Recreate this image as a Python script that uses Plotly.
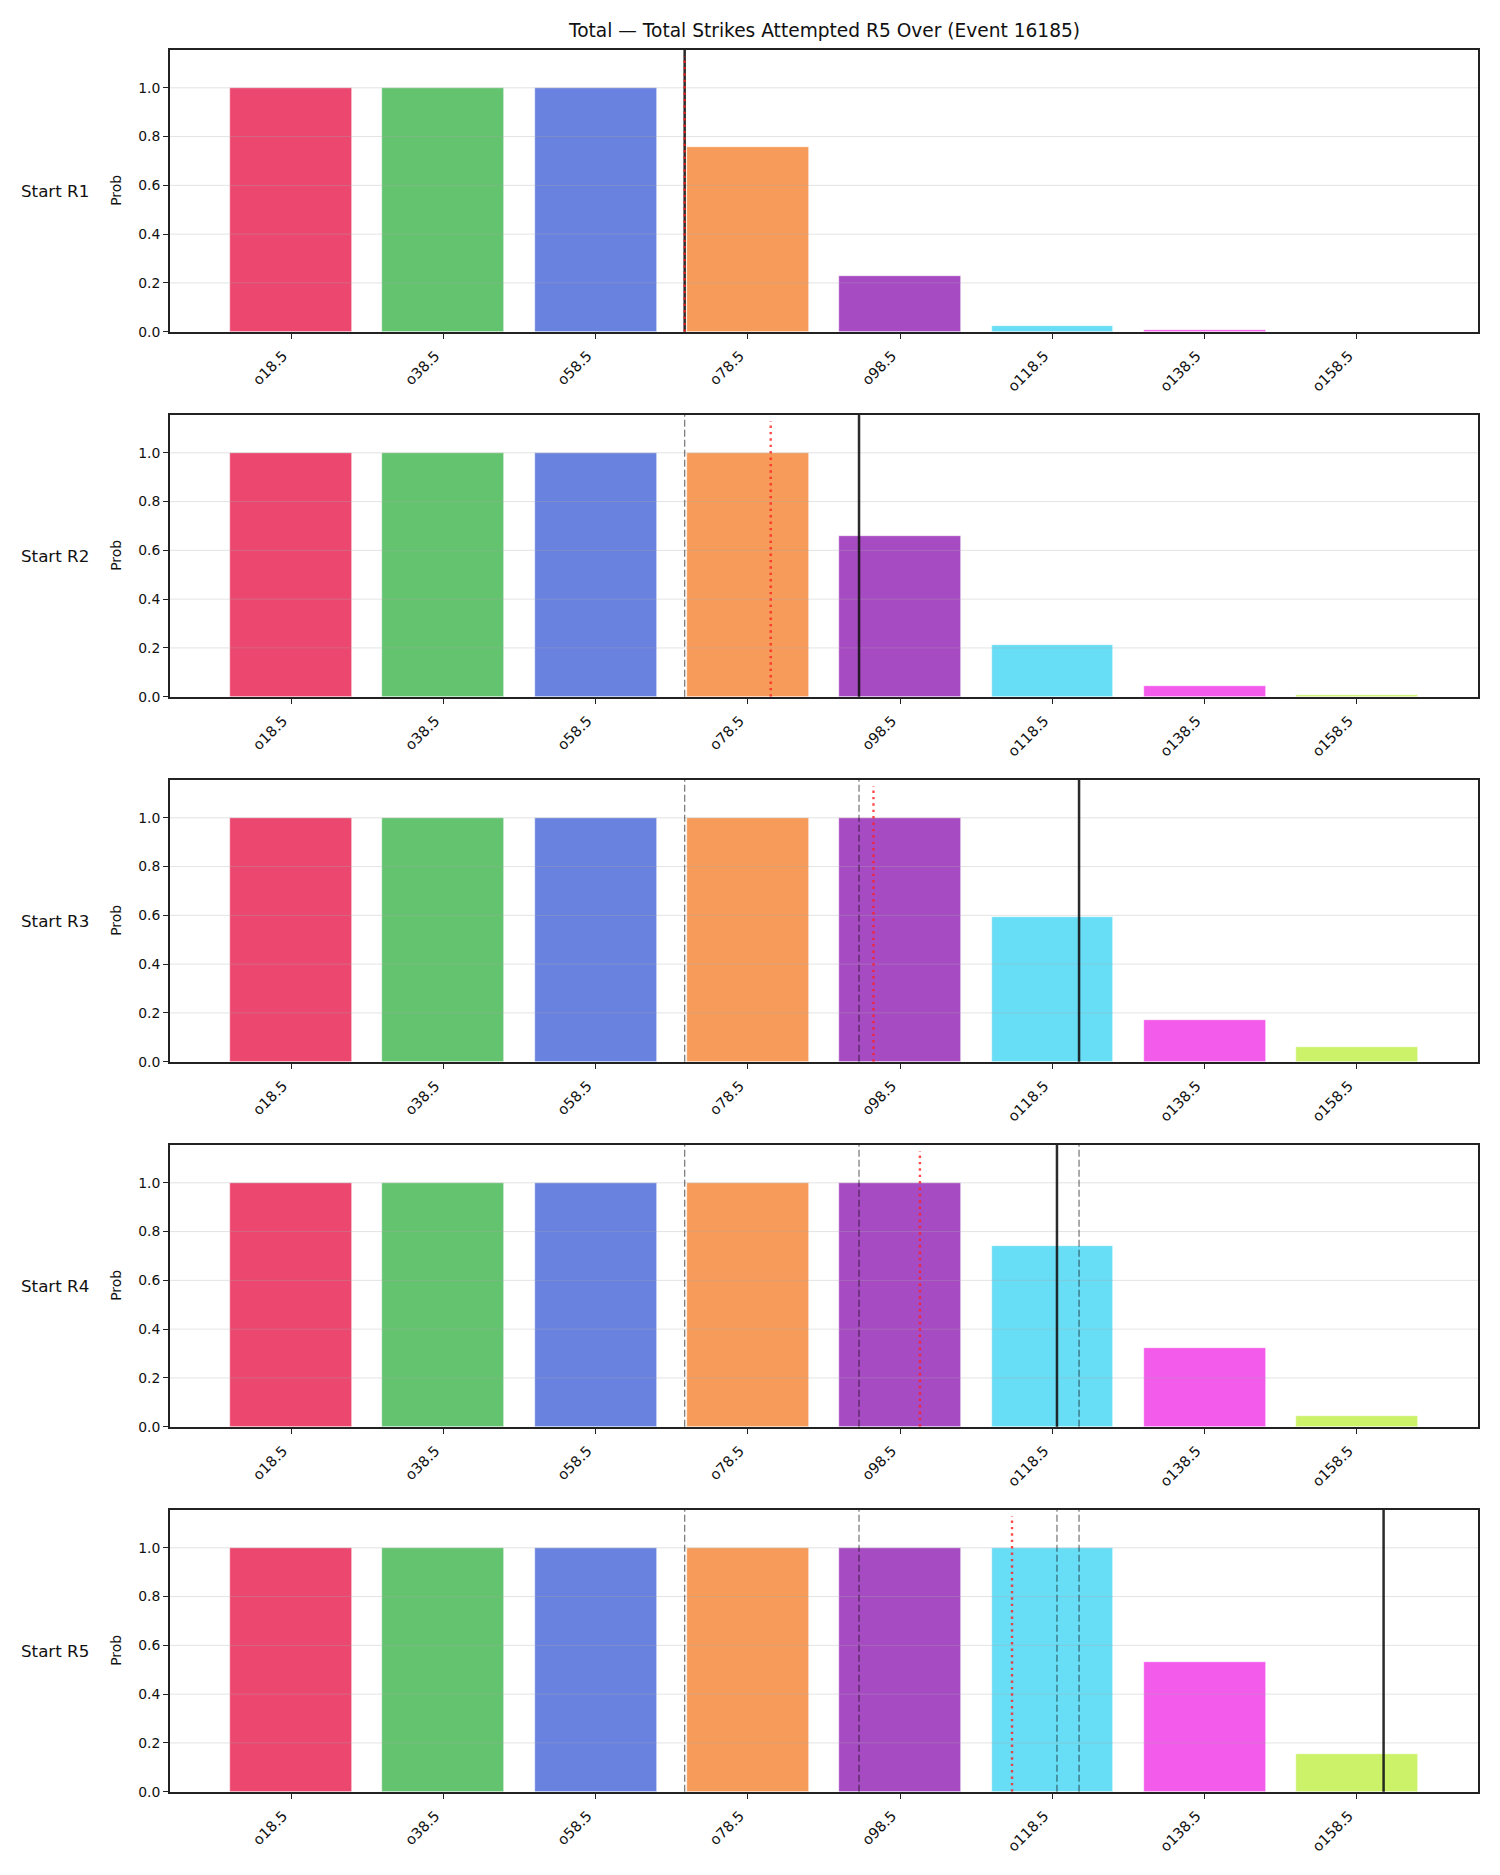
import plotly.graph_objects as go

# ---------------- data ----------------
categories = ["o18.5", "o38.5", "o58.5", "o78.5", "o98.5", "o118.5", "o138.5", "o158.5"]
line_values = [18.5, 38.5, 58.5, 78.5, 98.5, 118.5, 138.5, 158.5]
round_labels = ["Start R1", "Start R2", "Start R3", "Start R4", "Start R5"]

prob_r1 = [1.0, 1.0, 1.0, 0.757, 0.228, 0.023, 0.006, 0.0]
prob_r2 = [1.0, 1.0, 1.0, 1.0, 0.658, 0.210, 0.042, 0.005]
prob_r3 = [1.0, 1.0, 1.0, 1.0, 1.0, 0.593, 0.171, 0.060]
prob_r4 = [1.0, 1.0, 1.0, 1.0, 1.0, 0.741, 0.323, 0.044]
prob_r5 = [1.0, 1.0, 1.0, 1.0, 1.0, 1.0, 0.531, 0.155]
probs = [prob_r1, prob_r2, prob_r3, prob_r4, prob_r5]

# projected total (solid black) and pace line (red dotted) per round
proj_solid = [70.2, 93.1, 122.0, 119.1, 162.0]
proj_dotted = [70.2, 81.5, 95.0, 101.1, 113.2]

bar_colors = ["#e6194b", "#3cb44b", "#4363d8", "#f58231",
              "#911eb4", "#42d4f4", "#f032e6", "#bfef45"]
title_text = "Total \u2014 Total Strikes Attempted R5 Over (Event 16185)"

# ---------------- layout geometry ----------------
W, H = 1500, 1875
left_px, right_px = 170, 1478
top0, pitch, panel_h = 50, 365, 281.7
FONT = "DejaVu Sans"


def rgba(hexcol, a):
    h = hexcol.lstrip("#")
    r, g, b = int(h[0:2], 16), int(h[2:4], 16), int(h[4:6], 16)
    return f"rgba({r},{g},{b},{a})"


fig = go.Figure()
layout = dict(
    width=W, height=H,
    margin=dict(l=0, r=0, t=0, b=0, pad=0, autoexpand=False),
    paper_bgcolor="white", plot_bgcolor="white",
    showlegend=False,
    font=dict(family=FONT, color="#111"),
    bargap=0,
)
shapes = []
annotations = []

for k in range(5):
    idx = k + 1
    xa = f"x{idx}" if idx > 1 else "x"
    ya = f"y{idx}" if idx > 1 else "y"
    top = top0 + pitch * k
    bot = top + panel_h
    dom_y = [1 - bot / H, 1 - top / H]

    fig.add_trace(go.Bar(
        x=line_values, y=probs[k], width=16,
        marker=dict(color=[rgba(c, 0.8) for c in bar_colors],
                    line=dict(color="rgba(255,255,255,0.9)", width=0.6)),
        xaxis=xa, yaxis=ya, hoverinfo="x+y",
    ))

    axis_common = dict(
        showline=True, linecolor="#222", linewidth=2, mirror=True,
        ticks="outside", ticklen=5, tickwidth=1.4, tickcolor="#222",
        showgrid=False, zeroline=False, automargin=False,
    )
    layout["xaxis" + (str(idx) if idx > 1 else "")] = dict(
        domain=[left_px / W, right_px / W], anchor=ya,
        range=[2.6, 174.4], tickmode="array",
        tickvals=line_values, ticktext=categories, tickangle=-45,
        ticklabelshift=-8, ticklabelstandoff=3,
        tickfont=dict(family=FONT, size=14.5, color="#111"),
        **axis_common,
    )
    layout["yaxis" + (str(idx) if idx > 1 else "")] = dict(
        domain=dom_y, anchor=xa, range=[0, 1.155],
        tickmode="array", tickvals=[0, 0.2, 0.4, 0.6, 0.8, 1.0],
        ticktext=["0.0", "0.2", "0.4", "0.6", "0.8", "1.0"],
        tickfont=dict(family=FONT, size=13.9, color="#111"),
        **axis_common,
    )

    # horizontal grid (drawn over bars, translucent)
    for gy in [0.2, 0.4, 0.6, 0.8, 1.0]:
        shapes.append(dict(type="line", xref=f"{xa} domain", yref=ya,
                           x0=0, x1=1, y0=gy, y1=gy, layer="above",
                           line=dict(color="rgba(170,170,170,0.33)", width=1)))

    # previous rounds' projections (dashed)
    for pv in proj_solid[:k]:
        shapes.append(dict(type="line", xref=xa, yref=f"{ya} domain",
                           x0=pv, x1=pv, y0=0, y1=1, layer="above",
                           line=dict(color="rgba(0,0,0,0.5)", width=1.3,
                                     dash="7px,3px")))
    # current projection (solid)
    shapes.append(dict(type="line", xref=xa, yref=f"{ya} domain",
                       x0=proj_solid[k], x1=proj_solid[k], y0=0, y1=1,
                       layer="above",
                       line=dict(color="rgba(20,20,20,0.9)", width=2.5)))
    # pace line (red dotted)
    shapes.append(dict(type="line", xref=xa, yref=ya,
                       x0=proj_dotted[k], x1=proj_dotted[k], y0=0, y1=1.13,
                       layer="above",
                       line=dict(color="rgba(255,30,30,0.8)", width=2.4,
                                 dash="2.4px,4px")))

    ymid = 1 - (top + panel_h / 2) / H
    annotations.append(dict(text="Prob", xref="paper", yref="paper",
                            x=116 / W, y=ymid, textangle=-90,
                            xanchor="center", yanchor="middle", showarrow=False,
                            font=dict(family=FONT, size=13.9, color="#111")))
    annotations.append(dict(text=round_labels[k], xref="paper", yref="paper",
                            x=91 / W, y=ymid, xanchor="right", yanchor="middle",
                            showarrow=False,
                            font=dict(family=FONT, size=16.7, color="#111")))

annotations.append(dict(text=title_text, xref="paper", yref="paper",
                        x=(left_px + right_px) / 2 / W, y=1 - 31 / H,
                        xanchor="center", yanchor="middle", showarrow=False,
                        font=dict(family=FONT, size=18.6, color="#111")))

layout["shapes"] = shapes
layout["annotations"] = annotations
fig.update_layout(**layout)
fig.write_html("out.html")
